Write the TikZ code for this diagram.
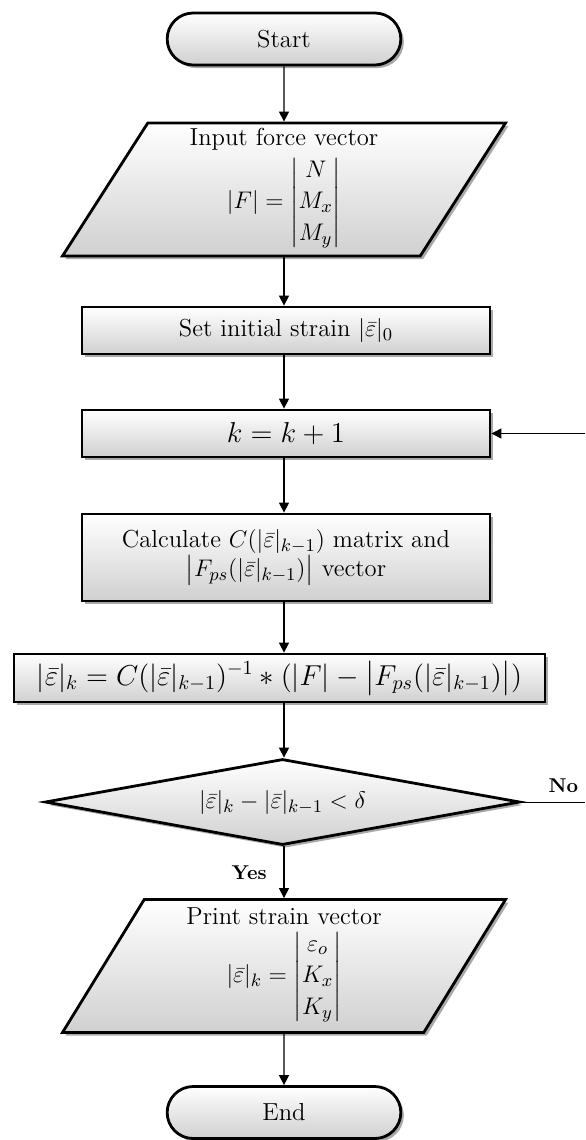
\documentclass[tikz,border=0pt]{standalone}
\usepackage{amsmath,amssymb}
\usetikzlibrary{arrows.meta,positioning,shapes.geometric,shapes.misc,shadows}
\definecolor{Shade}{RGB}{208,208,208}
\definecolor{Shadow}{RGB}{160,160,160}

\begin{document}
\begin{tikzpicture}[x=0.5pt,y=-0.5pt,
    font=\fontsize{12.3}{14.5}\selectfont,
    blk/.style={draw,line width=1.4pt,top color=white,middle color=white,bottom color=Shade,
      drop shadow={shadow xshift=1.5pt,shadow yshift=-1.5pt,fill=Shadow,opacity=.9}},
    term/.style={blk,rounded rectangle,minimum width=123.5pt,minimum height=26pt},
    io/.style={blk,trapezium,trapezium left angle=55,trapezium right angle=125,
      trapezium stretches body,minimum width=221.5pt,minimum height=66.5pt,inner sep=0pt},
    proc/.style={blk,rectangle,minimum width=204pt},
    test/.style={blk,diamond,aspect=5.5,minimum width=237.5pt,minimum height=43pt,inner sep=0pt},
    arr/.style={-{Triangle[length=5pt,width=5pt]},line width=.7pt},
    loop/.style={line width=.5pt},
    big/.style={font=\fontsize{14}{16}\selectfont}]
  \useasboundingbox (0,0) rectangle (585,1140);

  \node[term] (start) at (284,39) {Start};
  \node[io,align=center] (input) at (284,189.5)
    {Input force vector\\[1pt]
     $|F|=\left|\renewcommand{\arraystretch}{1.1}\begin{matrix}N\\M_x\\M_y\end{matrix}\right|$};
  \node[proc,minimum height=23.5pt] (init) at (286,330.5) {Set initial strain $|\bar{\varepsilon}|_0$};
  \node[proc,big,minimum height=23.5pt] (kstep) at (286,433.5) {$k=k+1$};
  \node[proc,minimum height=43.5pt,align=center] (calc) at (286,557.5)
    {Calculate $C(|\bar{\varepsilon}|_{k-1})$ matrix and\\
     $\bigl|F_{ps}(|\bar{\varepsilon}|_{k-1})\bigr|$ vector};
  \node[blk,big,minimum width=265.5pt,minimum height=24pt,inner sep=2pt] (update) at (279.5,678)
    {$|\bar{\varepsilon}|_k=C(|\bar{\varepsilon}|_{k-1})^{-1}*(|F|-\bigl|F_{ps}(|\bar{\varepsilon}|_{k-1})\bigr|)$};
  \node[test,font=\fontsize{13.2}{15}\selectfont] (check) at (282.5,802)
    {$|\bar{\varepsilon}|_k-|\bar{\varepsilon}|_{k-1}<\delta$};
  \node[io,align=center] (output) at (284,966)
    {Print strain vector\\[1pt]
     $|\bar{\varepsilon}|_k=\left|\renewcommand{\arraystretch}{1.1}\begin{matrix}\varepsilon_o\\K_x\\K_y\end{matrix}\right|$};
  \node[term] (stop) at (284,1112.5) {End};

  % loop stubs, cut at the page edge
  \coordinate (noend) at (585,802);
  \coordinate (back) at (585,433.5);

  \draw[arr] (start) -- (input);
  \draw[arr] (input.south -| start) -- (init.north -| start);
  \draw[arr] (init.south -| start) -- (kstep.north -| start);
  \draw[arr] (kstep.south -| start) -- (calc.north -| start);
  \draw[arr] (calc.south -| start) -- (update.north -| start);
  \draw[arr] (update.south -| start) -- (check.north -| start);
  \draw[arr] (check.south -| start) -- node[left=5pt,font=\bfseries]{Yes} (output.north -| start);
  \draw[arr] (output) -- (stop);
  \draw[loop] (check.east) -- node[pos=.66,above=1pt,font=\bfseries]{No} (noend);
  \draw[arr,loop] (back) -- (kstep.east);
\end{tikzpicture}
\end{document}
